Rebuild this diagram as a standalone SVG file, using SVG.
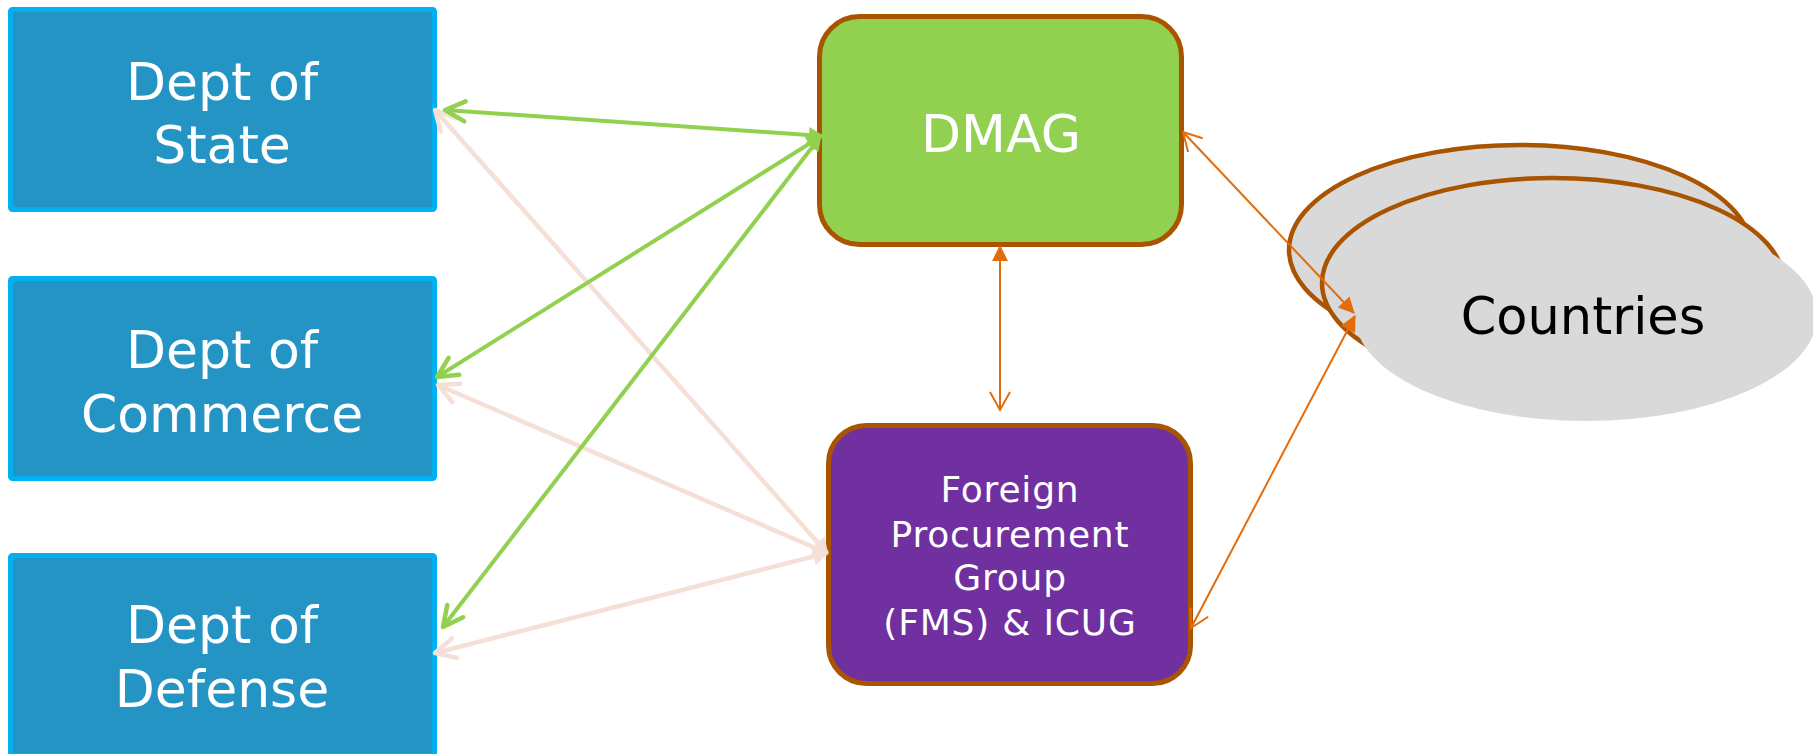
<svg xmlns="http://www.w3.org/2000/svg" width="1813" height="754" viewBox="0 0 1813 754">
<style>
.dept{fill:#2494C4;stroke:#00B0F0;stroke-width:5}
.big{font-family:"DejaVu Sans",sans-serif;font-size:52px;text-anchor:middle;fill:#FFFFFF}
.mid{font-family:"DejaVu Sans",sans-serif;font-size:36px;letter-spacing:0.8px;text-anchor:middle;fill:#FFFFFF}
.ell{fill:#D9D9D9;stroke:#A95400;stroke-width:4.5}
.g{stroke:#92D050;stroke-width:4;fill:none}
.p{stroke:#F5E0D8;stroke-width:4.5;fill:none}
.o{stroke:#E46C0A;stroke-width:2;fill:none}
</style>
<defs>
<marker id="gOpen" markerUnits="userSpaceOnUse" orient="auto-start-reverse" overflow="visible" markerWidth="1" markerHeight="1" refX="0" refY="0">
<path d="M-20,-10 L0,0 L-20,10" fill="none" stroke="#92D050" stroke-width="4.5" stroke-linecap="round" stroke-linejoin="round"/>
</marker>
<marker id="gFill" markerUnits="userSpaceOnUse" orient="auto" overflow="visible" markerWidth="1" markerHeight="1" refX="0" refY="0">
<path d="M2,0 L-13,-8 L-13,8 Z" fill="#92D050"/>
</marker>
<marker id="pOpen" markerUnits="userSpaceOnUse" orient="auto-start-reverse" overflow="visible" markerWidth="1" markerHeight="1" refX="0" refY="0">
<path d="M-20,-10 L0,0 L-20,10" fill="none" stroke="#F5E0D8" stroke-width="4.5" stroke-linecap="round" stroke-linejoin="round"/>
</marker>
<marker id="pFill" markerUnits="userSpaceOnUse" orient="auto" overflow="visible" markerWidth="1" markerHeight="1" refX="0" refY="0">
<path d="M2,0 L-14,-9 L-14,9 Z" fill="#F5E0D8"/>
</marker>
<marker id="oOpen" markerUnits="userSpaceOnUse" orient="auto-start-reverse" overflow="visible" markerWidth="1" markerHeight="1" refX="0" refY="0">
<path d="M-18,-10 L0,0 L-18,10" fill="none" stroke="#E46C0A" stroke-width="2"/>
</marker>
<marker id="oFill" markerUnits="userSpaceOnUse" orient="auto" overflow="visible" markerWidth="1" markerHeight="1" refX="0" refY="0">
<path d="M1,0 L-15,-8 L-15,8 Z" fill="#E46C0A"/>
</marker>
</defs>

<g id="state">
<rect class="dept" x="10.5" y="9.5" width="424" height="200" rx="2"/>
<text class="big" x="222" y="100">Dept of</text>
<text class="big" x="222" y="163">State</text>
</g>
<g id="commerce">
<rect class="dept" x="10.5" y="278.5" width="424" height="200" rx="2"/>
<text class="big" x="222" y="368">Dept of</text>
<text class="big" x="222" y="432">Commerce</text>
</g>
<g id="defense">
<rect class="dept" x="10.5" y="555.5" width="424" height="200" rx="2"/>
<text class="big" x="222" y="643">Dept of</text>
<text class="big" x="222" y="707">Defense</text>
</g>

<g id="dmag">
<rect x="819.5" y="16.5" width="362" height="228" rx="40" fill="#92D050" stroke="#A95400" stroke-width="5"/>
<text class="big" x="1001" y="152">DMAG</text>
</g>

<g id="fpg">
<rect x="828.5" y="425.5" width="362" height="258" rx="38" fill="#7030A0" stroke="#A95400" stroke-width="5"/>
<text class="mid" x="1010" y="502">Foreign</text>
<text class="mid" x="1010" y="547">Procurement</text>
<text class="mid" x="1010" y="590">Group</text>
<text class="mid" x="1010" y="635">(FMS) &amp; ICUG</text>
</g>

<g id="countries">
<ellipse class="ell" cx="1520" cy="250" rx="231" ry="105"/>
<ellipse class="ell" cx="1553" cy="283" rx="231" ry="105"/>
<ellipse cx="1586" cy="316" rx="231" ry="105" fill="#D9D9D9"/>
<text x="1583" y="334" font-family="DejaVu Sans, sans-serif" font-size="51" text-anchor="middle" fill="#000000">Countries</text>
</g>

<g id="connectors">
<path class="p" d="M435,110 L827,553" marker-start="url(#pOpen)" marker-end="url(#pFill)"/>
<path class="p" d="M438,385 L827,553" marker-start="url(#pOpen)" marker-end="url(#pFill)"/>
<path class="p" d="M435,653 L827,553" marker-start="url(#pOpen)" marker-end="url(#pFill)"/>
<path class="g" d="M445,110 L822,136" marker-start="url(#gOpen)" marker-end="url(#gFill)"/>
<path class="g" d="M437,377 L820,137" marker-start="url(#gOpen)" marker-end="url(#gFill)"/>
<path class="g" d="M443,627 L820,137" marker-start="url(#gOpen)" marker-end="url(#gFill)"/>
<path class="o" d="M1000,410 L1000,246" marker-start="url(#oOpen)" marker-end="url(#oFill)"/>
<path class="o" d="M1183,132 L1354,313" marker-start="url(#oOpen)" marker-end="url(#oFill)"/>
<path class="o" d="M1191,628 L1355,316" marker-start="url(#oOpen)" marker-end="url(#oFill)"/>
</g>
</svg>
